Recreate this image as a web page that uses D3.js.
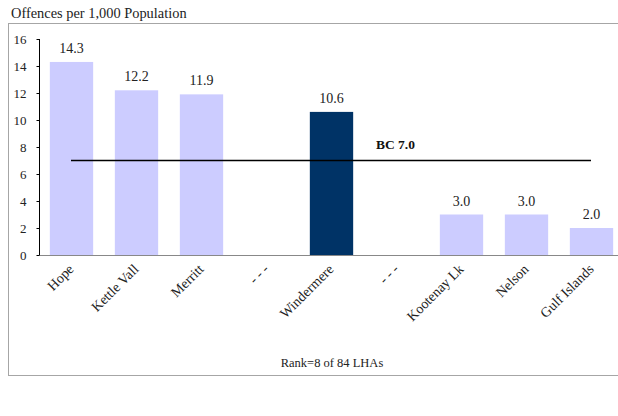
<!DOCTYPE html>
<html><head><meta charset="utf-8">
<script src="https://cdn.jsdelivr.net/npm/d3@7"></script>
<style>body{margin:0;background:#fff}svg{display:block}text{font-family:"Liberation Serif","DejaVu Serif",serif}</style>
</head><body><div id="c"></div>
<script>
const categories = ["Hope","Kettle Vall","Merritt","- - -","Windermere","- - -","Kootenay Lk","Nelson","Gulf Islands"];
const values = [14.3, 12.2, 11.9, null, 10.6, null, 3.0, 3.0, 2.0];
const highlight = [false,false,false,false,true,false,false,false,false];
const yTicks = [0,2,4,6,8,10,12,14,16];
const bcValue = 7.0;
const bcLabel = "BC 7.0";
const title = "Offences per 1,000 Population";
const rankText = "Rank=8 of 84 LHAs";

const W = 618, H = 416;
const svg = d3.select("#c").append("svg").attr("width", W).attr("height", H);
const mLeft = 39, mTop = 39, mBottom = 255;
const step = 65;
const x = d3.scaleBand().domain(d3.range(categories.length)).range([mLeft, mLeft + step*categories.length]).paddingInner(1/3).paddingOuter(1/6);
const y = d3.scaleLinear().domain([0,16]).range([mBottom, mTop]);

// outer border
svg.append("rect").attr("x",8.5).attr("y",23.5).attr("width",640).attr("height",352).attr("fill","none").attr("stroke","#a6a6a6").attr("stroke-width",1);

svg.append("text").attr("x",11).attr("y",18).attr("font-size",14.4).attr("fill","#222").text(title);

const data = values.map((v,i)=>({v,i})).filter(d=>d.v!=null);

// bars
svg.selectAll("rect.bar").data(data).enter()
  .append("rect").attr("class","bar")
  .attr("x",d=>x(d.i)).attr("width",x.bandwidth())
  .attr("y",d=>y(d.v)).attr("height",d=>y(0)-y(d.v))
  .attr("fill",d=>highlight[d.i]?"#003366":"#ccccff");

// value labels
svg.selectAll("text.val").data(data).enter()
  .append("text").attr("class","val")
  .attr("x",d=>x(d.i)+x.bandwidth()/2).attr("y",d=>y(d.v)-9)
  .attr("text-anchor","middle").attr("font-size",14).attr("fill","#222")
  .text(d=>d.v.toFixed(1));

// x axis line (gray)
svg.append("line").attr("x1",mLeft).attr("x2",W).attr("y1",mBottom+0.5).attr("y2",mBottom+0.5).attr("stroke","#888");

// y axis
const yAxis = d3.axisLeft(y).tickValues(yTicks).tickSize(3).tickFormat(d3.format("d"));
const ya = svg.append("g").attr("transform",`translate(${mLeft+0.5},0)`).call(yAxis);
ya.select(".domain").attr("stroke","#000").attr("d",`M0,${mTop}V${mBottom}`);
ya.selectAll(".tick line").attr("stroke","#000");
ya.selectAll(".tick text").attr("font-size",13).attr("font-family","Liberation Serif, serif").attr("fill","#222").attr("x",-13);

// BC line
svg.append("line").attr("x1",71).attr("x2",591).attr("y1",y(bcValue)).attr("y2",y(bcValue)).attr("stroke","#000").attr("stroke-width",1.3);
svg.append("text").attr("x",395.5).attr("y",y(bcValue)-11.5).attr("text-anchor","middle").attr("font-size",13.5).attr("font-weight","bold").attr("fill","#111").text(bcLabel);

// category labels
svg.selectAll("text.cat").data(categories.map((c,i)=>({c,i}))).enter()
  .append("text").attr("class","cat")
  .attr("transform",d=>`translate(${x(d.i)+x.bandwidth()/2+3},${mBottom+15}) rotate(-45)`)
  .attr("text-anchor","end").attr("font-size",14).attr("fill","#222")
  .text(d=>d.c);

svg.append("text").attr("x",332).attr("y",367).attr("text-anchor","middle").attr("font-size",12.5).attr("fill","#222").text(rankText);
</script></body></html>
